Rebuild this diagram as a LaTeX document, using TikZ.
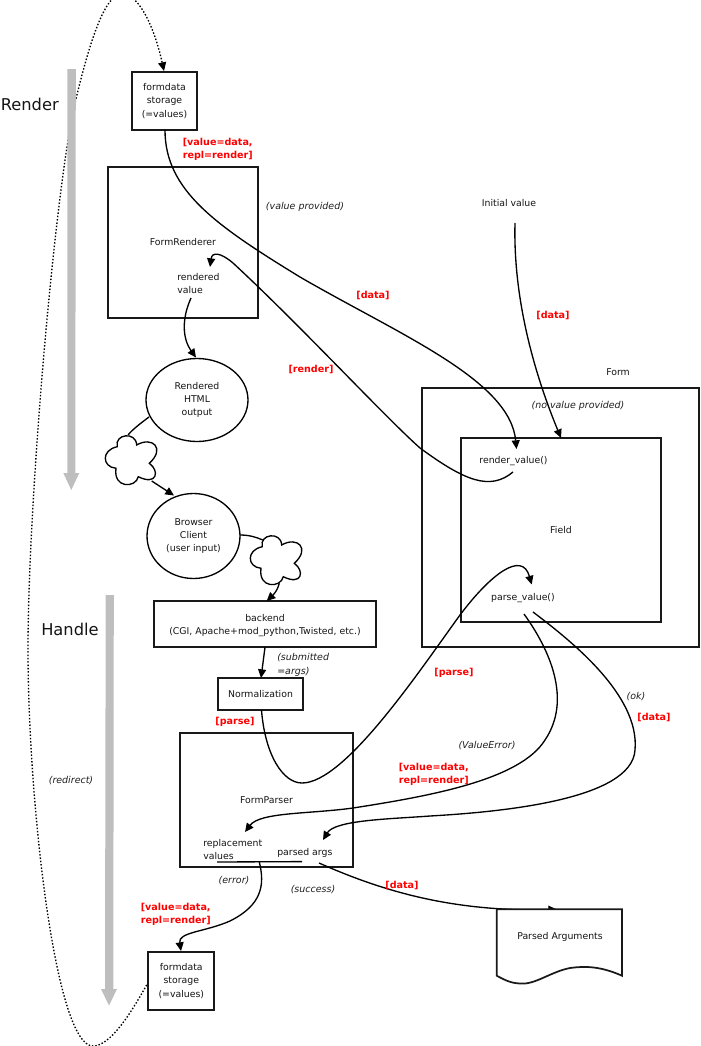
\documentclass[tikz,border=0pt]{standalone}
\usepackage{fontspec}
\setmainfont{DejaVu Sans}
\usetikzlibrary{arrows.meta,shapes.geometric}
\definecolor{barcol}{HTML}{BEBEBE}
\definecolor{redlab}{HTML}{FF0000}
\tikzset{
  txt/.style={inner sep=0pt,font=\fontsize{7}{10}\selectfont,text=black!92,align=center},
  ital/.style={inner sep=0pt,font=\fontsize{7.1}{10}\selectfont\itshape,text=black!88,align=left},
  redl/.style={inner sep=0pt,font=\fontsize{7.2}{9.75}\selectfont\bfseries,text=redlab,align=left},
  big/.style={inner sep=0pt,font=\fontsize{12.2}{14}\selectfont,text=black!92},
  boxn/.style={draw=black!90,line width=1.3pt,inner sep=0pt,align=center,font=\fontsize{7}{10}\selectfont,text=black!92},
  ell/.style={ellipse,draw=black,line width=1pt,inner sep=0pt,align=center,font=\fontsize{7}{10}\selectfont,text=black!92},
  conn/.style={draw=black,line width=1pt},
  arr/.style={conn,-{Triangle[length=6.5pt,width=6pt]}},
  dots/.style={draw=black,line width=1pt,dash pattern=on 1.1pt off 1.4pt},
  cloudblob/.pic={
    \draw[conn,fill=white] (117.3,446.7) .. controls (114,434) and (136,431) .. (136.7,445)
      .. controls (152,436) and (166,448) .. (149.3,463.3)
      .. controls (160,471) and (157,486) .. (138.3,476.7)
      .. controls (136,488) and (113,489) .. (116,468.3)
      .. controls (102,467) and (101,450) .. (117.3,446.7) -- cycle;
  }
}
\begin{document}
\begin{tikzpicture}[x=0.75pt,y=-0.75pt]
\useasboundingbox (0,0) rectangle (700,1046);
\clip (0,0) rectangle (700,1046);

% free ends of the connectors
\coordinate (dotstart) at (148.3,982);
\coordinate (dotend) at (164,71);
\coordinate (storeout) at (165,130);
\coordinate (renderin) at (516.5,449);
\coordinate (renderout) at (513,472);
\coordinate (rvin) at (210,267);
\coordinate (rvout) at (191,298);
\coordinate (htmlin) at (196,357.5);
\coordinate (htmlout) at (149,417);
\coordinate (cloudAin) at (128,435);
\coordinate (cloudAout) at (151.7,481);
\coordinate (browserin) at (174,495.5);
\coordinate (browserout) at (240,535);
\coordinate (cloudBin) at (262.7,540);
\coordinate (cloudBout) at (279.3,583.3);
\coordinate (backendin) at (266.7,601);
\coordinate (backendout) at (265,647.3);
\coordinate (normin) at (261,678);
\coordinate (normout) at (261.5,710);
\coordinate (parsein) at (531.7,584.5);
\coordinate (initout) at (515,223);
\coordinate (fieldin) at (561,438);
\coordinate (errout) at (524,614);
\coordinate (replin) at (245,832);
\coordinate (okout) at (533,612);
\coordinate (argsin) at (323,840);
\coordinate (barL) at (217,862);
\coordinate (barR) at (302,861.6);
\coordinate (barM) at (259.3,862);
\coordinate (storein) at (181,951);
\coordinate (argsout) at (319,863);
\coordinate (docin) at (557,909.5);

% dotted redirect
\draw[dots,-{Triangle[length=6.5pt,width=6pt]}] (dotstart)
  .. controls (130,1015) and (110,1046) .. (93,1046)
  .. controls (55,1046) and (28,800) .. (28,650)
  .. controls (28,500) and (55,190) .. (75,103)
  .. controls (90,40) and (105,-6) .. (122,-6)
  .. controls (140,-6) and (155,30) .. (dotend);

% grey arrows
\fill[barcol] (67.3,69) -- (75.8,69) -- (75.3,473) -- (79.3,473) -- (71.3,490) -- (63.3,473) -- (67.3,473) -- cycle;
\fill[barcol] (105.7,595) -- (113.8,595) -- (113.3,989) -- (117,989) -- (109,1005.5) -- (101,989) -- (105,989) -- cycle;

% boxes
\node[boxn,minimum width=65pt*0.75,minimum height=58pt*0.75] (storeA) at (164.5,101) {formdata\\storage\\(=values)};
\node[boxn,minimum width=150pt*0.75,minimum height=151pt*0.75] (renderer) at (183,242.5) {FormRenderer};
\node[boxn,minimum width=221.4pt*0.75,minimum height=46.3pt*0.75] (backend) at (265,624) {};
\node[txt] (backendlab) at (265,625.3) {backend\\(CGI, Apache+mod\_python,Twisted, etc.)};
\node[boxn,minimum width=85pt*0.75,minimum height=32pt*0.75] (norm) at (260.5,694) {Normalization};
\node[boxn,minimum width=173.6pt*0.75,minimum height=134.6pt*0.75] (parser) at (266.5,800) {FormParser};
\node[boxn,minimum width=66pt*0.75,minimum height=58.3pt*0.75] (storeB) at (181.3,980.8) {formdata\\storage\\(=values)};
\node[boxn,minimum width=277.6pt*0.75,minimum height=259pt*0.75] (form) at (560.5,517.8) {};
\node[boxn,minimum width=200pt*0.75,minimum height=184pt*0.75] (field) at (561,530.2) {Field};

% ellipses
\node[ell,minimum width=102pt*0.75,minimum height=83pt*0.75] (html) at (197,400) {Rendered\\HTML\\output};
\node[ell,minimum width=93pt*0.75,minimum height=85pt*0.75] (browser) at (193.5,536) {Browser\\Client\\(user input)};

% connectors
\draw[arr] (storeout) .. controls (165,190) and (215,225) .. (300,277)
  .. controls (400,335) and (510,380) .. (renderin);
\draw[arr] (renderout) .. controls (490,491) and (465,481) .. (420,448)
  .. controls (385,417) and (300,325) .. (233,263)
  .. controls (220,252) and (212,252) .. (rvin);
\draw[arr] (rvout) .. controls (182,318) and (182,338) .. (htmlin);
\draw[conn] (htmlout) .. controls (141,423) and (133,429) .. (cloudAin);
\draw[conn] (browserout) .. controls (249,535) and (256,537) .. (cloudBin);
\draw[arr] (cloudBout) .. controls (277,592) and (272,596) .. (backendin);
\draw[arr] (backendout) -- (normin);
\draw[arr] (normout) .. controls (265,755) and (283,783) .. (302,783)
  .. controls (345,783) and (420,670) .. (460,615)
  .. controls (490,575) and (522,550) .. (parsein);
\draw[arr] (initout) .. controls (513,300) and (535,375) .. (fieldin);
\draw[arr] (errout) .. controls (550,650) and (572,700) .. (545,740)
  .. controls (520,780) and (430,796) .. (353,808)
  .. controls (310,814) and (260,812) .. (replin);
\draw[arr] (okout) .. controls (570,640) and (640,695) .. (635,750)
  .. controls (632,800) and (500,812) .. (430,816)
  .. controls (390,819) and (335,820) .. (argsin);
\draw[conn] (barL) -- (barR);
\draw[arr] (barM) .. controls (265,885) and (262,905) .. (230,921)
  .. controls (205,932) and (178,932) .. (storein);
\draw[arr] (argsout) .. controls (380,890) and (450,912) .. (docin);

% clouds
\pic {cloudblob};
\pic[shift={(145,100)}] {cloudblob};
\draw[arr] (cloudAout) -- (browserin);

% parsed arguments document
\draw[draw=black!90,line width=1.3pt,fill=white] (496.7,909.3) -- (622,909.3) -- (622,975.7)
  .. controls (600,966) and (585,966) .. (570,968)
  .. controls (550,972) and (535,985) .. (520,983.5)
  .. controls (510,983) and (505,980) .. (496.7,975.7) -- cycle;
\node[txt] (doclab) at (560,937) {Parsed Arguments};

% inner labels
\node[txt,align=left,anchor=west] (rendered) at (177,283.5) {rendered\\value};
\node[txt,align=left,anchor=west] (repl) at (203,849.5) {replacement\\values};
\node[txt,anchor=west] (parsed) at (277,853) {parsed args};
\node[txt] (rv) at (513.5,461.5) {render\_value()};
\node[txt] (pv) at (523,598) {parse\_value()};
\node[txt] (formlab) at (618,372) {Form};
\node[txt] (init) at (509,203) {Initial value};

\node[big,anchor=west] (renderlab) at (0.5,104) {Render};
\node[big,anchor=west] (handlelab) at (41,629) {Handle};

% italics
\node[ital] (i1) at (305,206.5) {(value provided)};
\node[ital] (i2) at (578,405.5) {(no value provided)};
\node[ital,anchor=west] (i3) at (277,665) {(submitted\\=args)};
\node[ital] (i4) at (487,745.5) {(ValueError)};
\node[ital] (i5) at (636,696.5) {(ok)};
\node[ital] (i6) at (234,880.5) {(error)};
\node[ital] (i7) at (313,889.5) {(success)};
\node[ital] (i8) at (71,780.5) {(redirect)};

% red labels
\node[redl,anchor=west] (r1) at (182.5,149.5) {[value=data,\\repl=render]};
\node[redl] (r2) at (373,295.5) {[data]};
\node[redl] (r3) at (311,369.5) {[render]};
\node[redl] (r4) at (553,315.5) {[data]};
\node[redl] (r5) at (454,672.5) {[parse]};
\node[redl] (r6) at (654,717.5) {[data]};
\node[redl,anchor=west] (r7) at (398.5,774.5) {[value=data,\\repl=render]};
\node[redl] (r8) at (235,721.5) {[parse]};
\node[redl] (r9) at (402,885.5) {[data]};
\node[redl,anchor=west] (r10) at (140.5,914.5) {[value=data,\\repl=render]};
\end{tikzpicture}
\end{document}
